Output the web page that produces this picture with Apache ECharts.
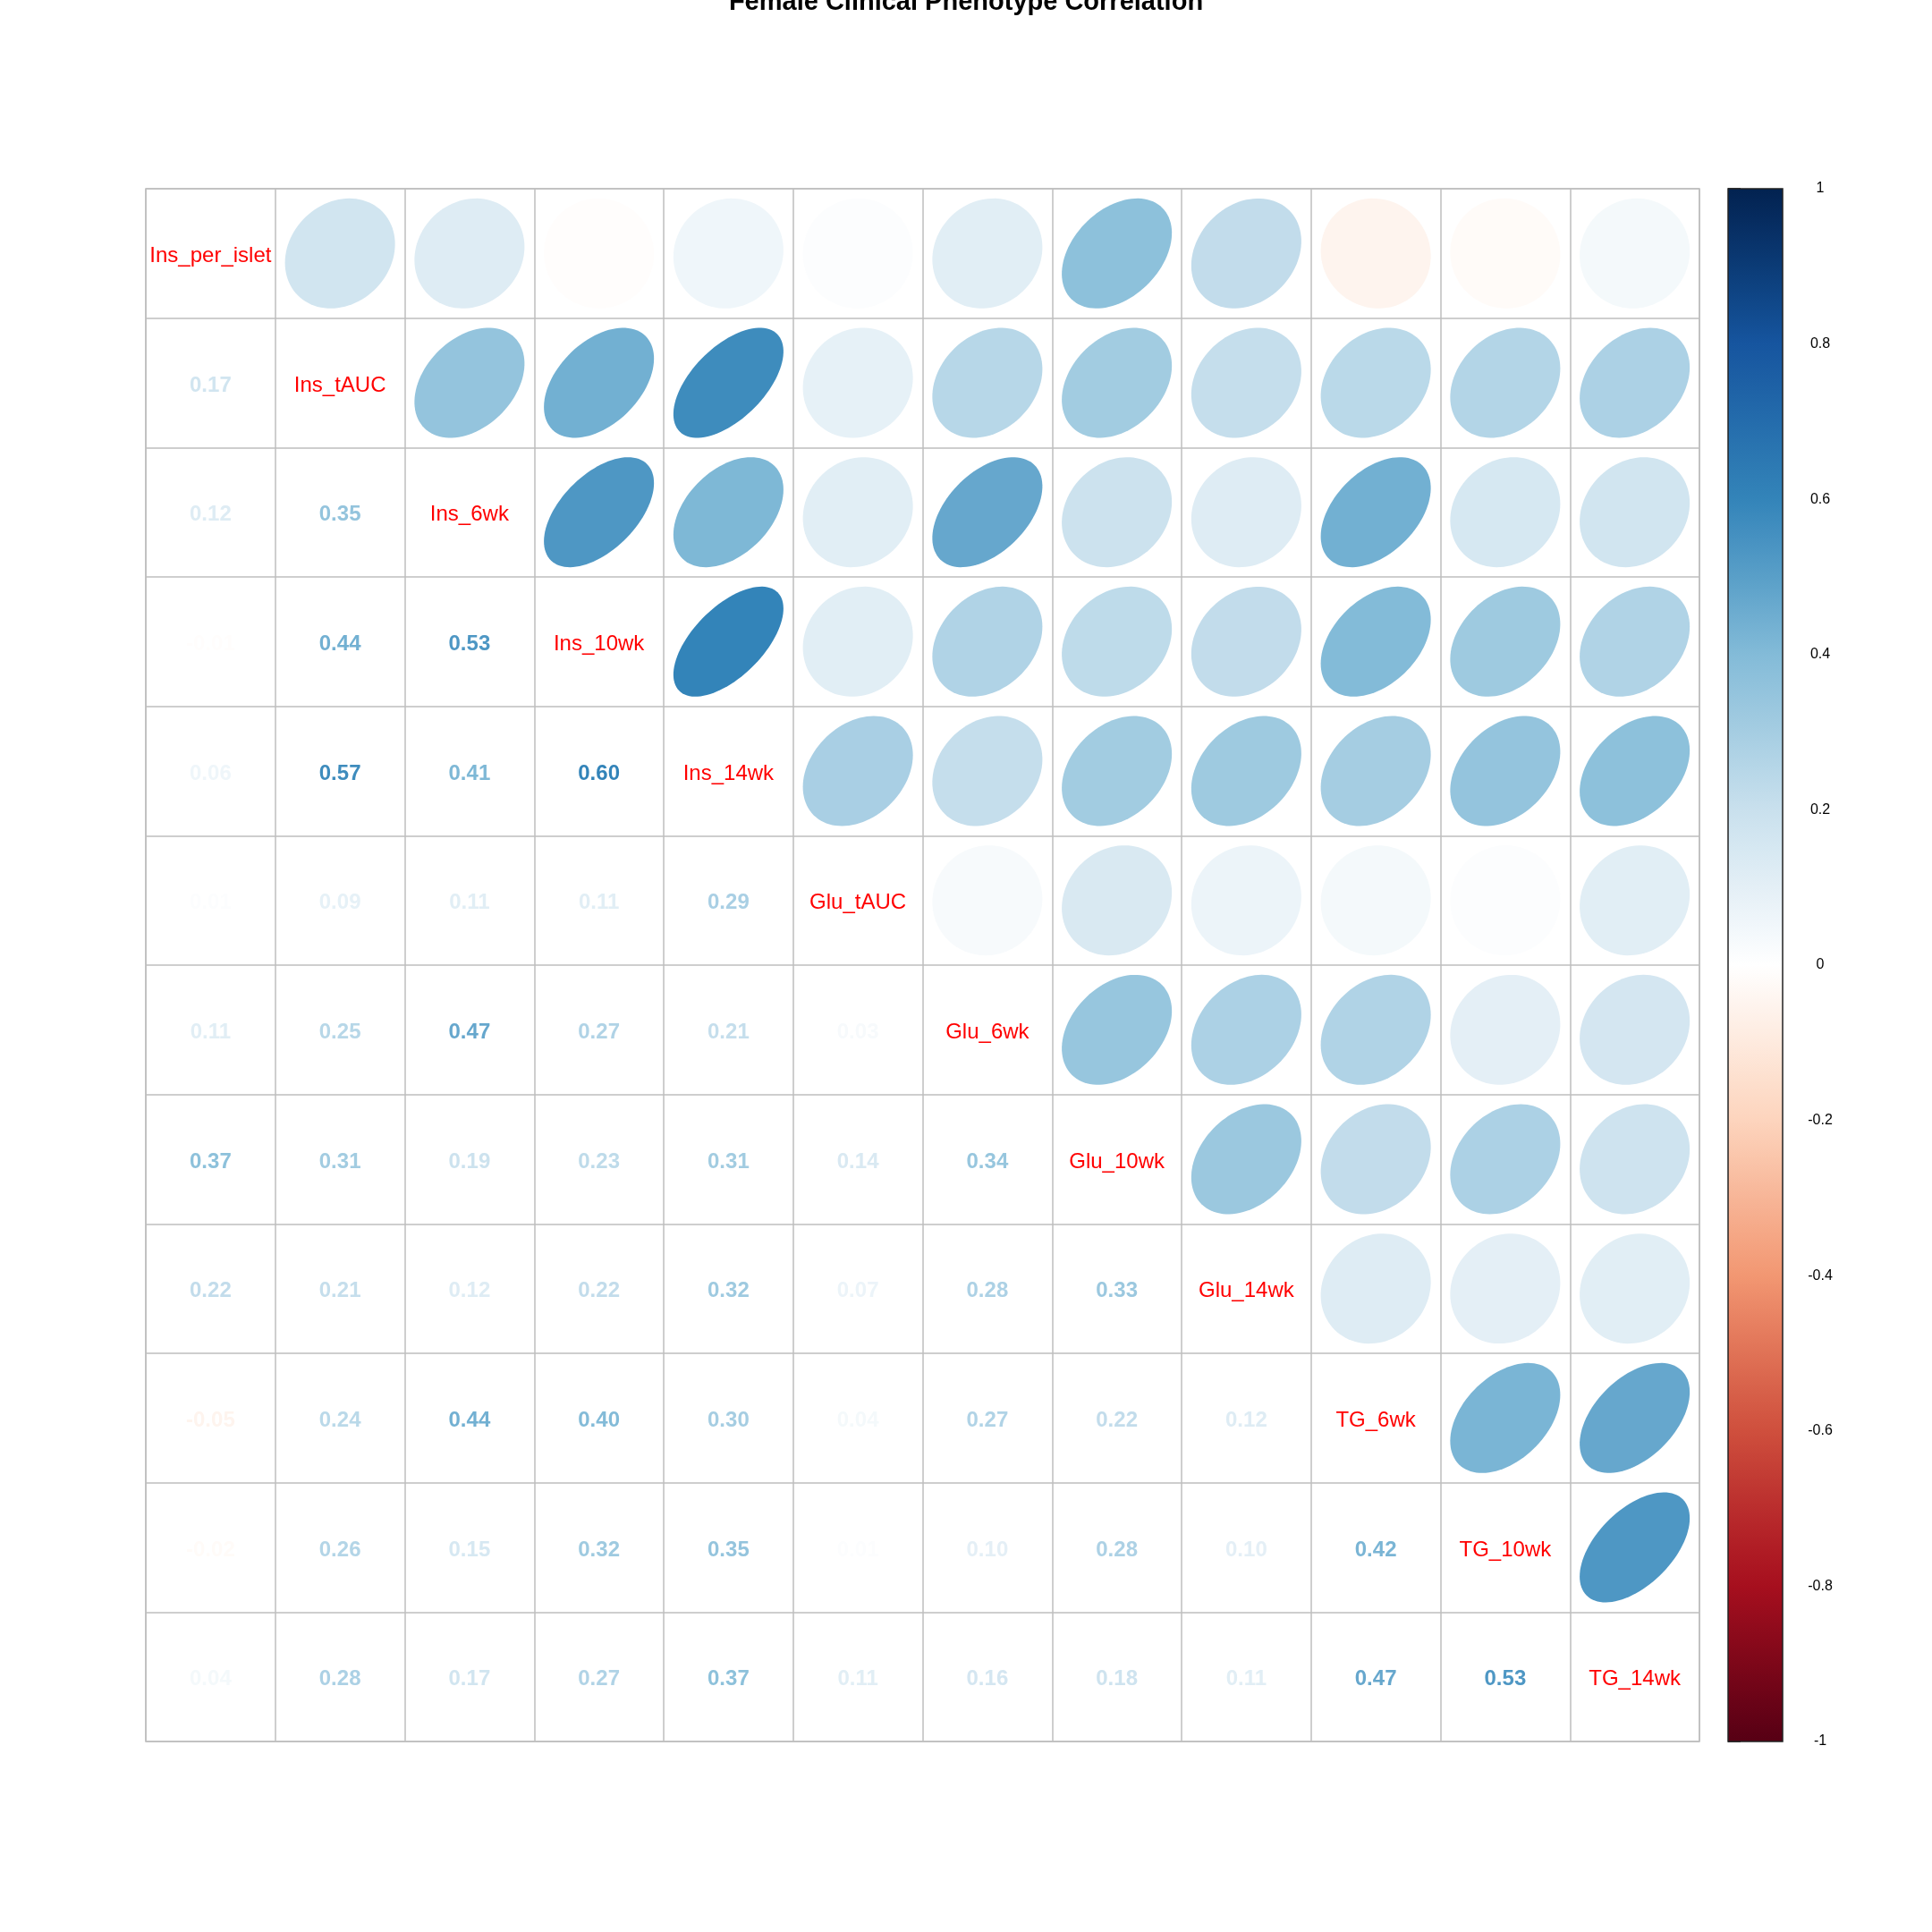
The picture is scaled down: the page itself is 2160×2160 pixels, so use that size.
<!DOCTYPE html>
<html>
<head>
<meta charset="utf-8">
<script src="https://cdn.jsdelivr.net/npm/echarts@6/dist/echarts.min.js"></script>
<style>html,body{margin:0;padding:0;background:#fff}#chart{width:2160px;height:2160px}</style>
</head>
<body>
<div id="chart"></div>
<script>
// ---- DATA ----
const titleText = 'Female Clinical Phenotype Correlation';
const variables = ['Ins_per_islet','Ins_tAUC','Ins_6wk','Ins_10wk','Ins_14wk','Glu_tAUC','Glu_6wk','Glu_10wk','Glu_14wk','TG_6wk','TG_10wk','TG_14wk'];
// lower-triangle rows (correlation of row variable with each earlier variable)
const row_Ins_tAUC = [0.17];
const row_Ins_6wk  = [0.12, 0.35];
const row_Ins_10wk = [-0.01, 0.44, 0.53];
const row_Ins_14wk = [0.06, 0.57, 0.41, 0.60];
const row_Glu_tAUC = [0.01, 0.09, 0.11, 0.11, 0.29];
const row_Glu_6wk  = [0.11, 0.25, 0.47, 0.27, 0.21, 0.03];
const row_Glu_10wk = [0.37, 0.31, 0.19, 0.23, 0.31, 0.14, 0.34];
const row_Glu_14wk = [0.22, 0.21, 0.12, 0.22, 0.32, 0.07, 0.28, 0.33];
const row_TG_6wk   = [-0.05, 0.24, 0.44, 0.40, 0.30, 0.04, 0.27, 0.22, 0.12];
const row_TG_10wk  = [-0.02, 0.26, 0.15, 0.32, 0.35, 0.01, 0.10, 0.28, 0.10, 0.42];
const row_TG_14wk  = [0.04, 0.28, 0.17, 0.27, 0.37, 0.11, 0.16, 0.18, 0.11, 0.47, 0.53];
const paletteRdBu = ['#67001F','#B2182B','#D6604D','#F4A582','#FDDBC7','#FFFFFF','#D1E5F0','#92C5DE','#4393C3','#2166AC','#053061'];

// ---- BUILD ----
const lowerRows = [[], row_Ins_tAUC, row_Ins_6wk, row_Ins_10wk, row_Ins_14wk, row_Glu_tAUC, row_Glu_6wk, row_Glu_10wk, row_Glu_14wk, row_TG_6wk, row_TG_10wk, row_TG_14wk];
const n = variables.length;
const corr = [];
for (let i = 0; i < n; i++) { corr.push(new Array(n).fill(1)); }
for (let i = 0; i < n; i++) for (let j = 0; j < i; j++) { corr[i][j] = lowerRows[i][j]; corr[j][i] = lowerRows[i][j]; }

const GAMMA = 1.2;
function hex2rgb(h){ return [parseInt(h.slice(1,3),16), parseInt(h.slice(3,5),16), parseInt(h.slice(5,7),16)]; }
function colorFor(r){
  let t = (r + 1) / 2 * (paletteRdBu.length - 1);
  let i = Math.floor(t); if (i >= paletteRdBu.length - 1) i = paletteRdBu.length - 2; if (i < 0) i = 0;
  const f = t - i;
  const a = hex2rgb(paletteRdBu[i]), b = hex2rgb(paletteRdBu[i+1]);
  const c = a.map((v,k)=>Math.round(255 * Math.pow((v + (b[k]-v)*f) / 255, GAMMA)));
  return 'rgb(' + c.join(',') + ')';
}

const ellipseData = [], numberData = [], diagData = [];
for (let i = 0; i < n; i++) {
  for (let j = 0; j < n; j++) {
    if (j > i) ellipseData.push([j, i, corr[i][j]]);
    else if (j < i) numberData.push([j, i, corr[i][j]]);
    else diagData.push([j, i]);
  }
}

const FONT = '"Liberation Sans", Arial, sans-serif';
const TEXT_DY = 3;

const gradStops = [];
for (let s = 0; s <= 40; s++) gradStops.push({ offset: s / 40, color: colorFor(-1 + 2 * s / 40) });

const chart = echarts.init(document.getElementById('chart'), null, {renderer: 'canvas'});
chart.setOption({
  animation: false,
  backgroundColor: '#fff',
  graphic: [{
    type: 'text', x: 1080, y: 3, z: 10,
    style: { text: titleText, font: 'bold 29px ' + FONT, fill: '#000', align: 'center', verticalAlign: 'middle' }
  }],
  grid: [
    { left: 163, top: 211, width: 1737, height: 1736, show: true, borderColor: '#BEBEBE', borderWidth: 1.5, backgroundColor: 'transparent' },
    { left: 1932, top: 211, width: 61, height: 1736 }
  ],
  xAxis: [
    { gridIndex: 0, type: 'value', min: 0, max: n, interval: 1, axisLine: {show: false}, axisTick: {show: false}, axisLabel: {show: false},
      splitLine: {show: true, lineStyle: {color: '#BEBEBE', width: 1.5}} },
    { gridIndex: 1, type: 'value', min: 0, max: 1, show: false }
  ],
  yAxis: [
    { gridIndex: 0, type: 'value', min: 0, max: n, interval: 1, inverse: true, axisLine: {show: false}, axisTick: {show: false}, axisLabel: {show: false},
      splitLine: {show: true, lineStyle: {color: '#BEBEBE', width: 1.5}} },
    { gridIndex: 1, type: 'value', min: -1, max: 1, interval: 0.2, position: 'right',
      axisLine: {show: true, lineStyle: {color: '#222', width: 1}},
      axisTick: {show: true, length: 14, lineStyle: {color: '#222', width: 1.5}},
      axisLabel: {show: true, margin: 42, align: 'center', fontSize: 16, color: '#000', fontFamily: FONT},
      splitLine: {show: false} }
  ],
  series: [
    {
      type: 'custom', xAxisIndex: 0, yAxisIndex: 0, data: ellipseData, silent: true,
      renderItem: function (params, api) {
        const col = api.value(0), row = api.value(1), r = api.value(2);
        const c = api.coord([col + 0.5, row + 0.5]);
        const sz = api.size([1, 1]);
        const a = Math.acos(r);
        const pts = [];
        const m = 99;
        for (let k = 0; k < m; k++) {
          const th = 2 * Math.PI * k / (m - 1);
          const x = Math.cos(th + a / 2) / 2 * 0.85;
          const y = Math.cos(th - a / 2) / 2 * 0.85;
          pts.push([c[0] + x * sz[0], c[1] - y * sz[1]]);
        }
        return { type: 'polygon', shape: { points: pts }, style: { fill: colorFor(r), stroke: null } };
      }
    },
    {
      type: 'custom', xAxisIndex: 0, yAxisIndex: 0, data: numberData, silent: true,
      renderItem: function (params, api) {
        const col = api.value(0), row = api.value(1), r = api.value(2);
        const c = api.coord([col + 0.5, row + 0.5]);
        return { type: 'text', x: c[0], y: c[1] + TEXT_DY, style: { text: r.toFixed(2), font: 'bold 24px ' + FONT, fill: colorFor(r), align: 'center', verticalAlign: 'middle' } };
      }
    },
    {
      type: 'custom', xAxisIndex: 0, yAxisIndex: 0, silent: true, data: diagData,
      renderItem: function (params, api) {
        const col = api.value(0), row = api.value(1);
        const c = api.coord([col + 0.5, row + 0.5]);
        return { type: 'text', x: c[0], y: c[1] + TEXT_DY, style: { text: variables[row], font: '24px ' + FONT, fill: '#FF0000', align: 'center', verticalAlign: 'middle' } };
      }
    },
    {
      type: 'custom', xAxisIndex: 1, yAxisIndex: 1, silent: true, data: [[0, 0]],
      renderItem: function (params, api) {
        const p1 = api.coord([0, 1]);
        const p2 = api.coord([1, -1]);
        return {
          type: 'rect',
          shape: { x: p1[0], y: p1[1], width: p2[0] - p1[0], height: p2[1] - p1[1] },
          style: { fill: new echarts.graphic.LinearGradient(0, 1, 0, 0, gradStops), stroke: '#222', lineWidth: 1.5 }
        };
      }
    }
  ]
});
</script>
</body>
</html>
